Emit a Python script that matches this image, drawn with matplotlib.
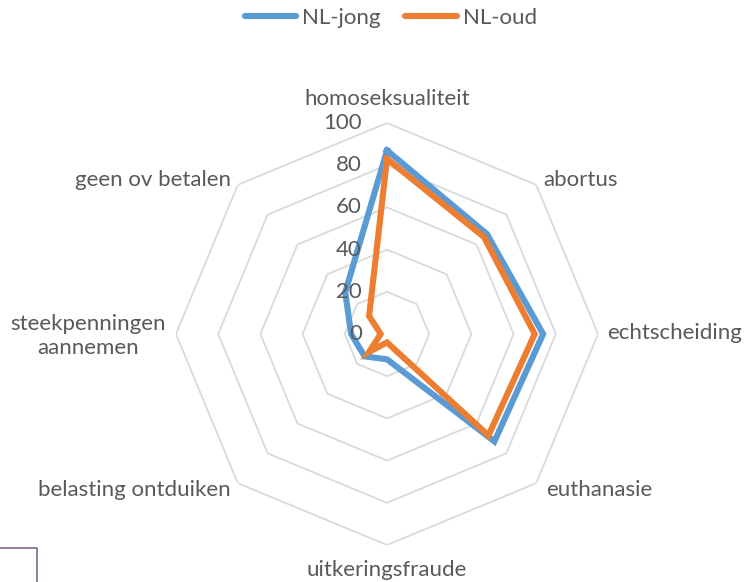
import numpy as np
import matplotlib
matplotlib.use("Agg")
import matplotlib.pyplot as plt
from matplotlib.lines import Line2D

categories = ["homoseksualiteit", "abortus", "echtscheiding", "euthanasie",
              "uitkeringsfraude", "belasting ontduiken", "steekpenningen\naannemen",
              "geen ov betalen"]
nl_jong = [87, 67, 74, 72, 12, 15, 17, 28]
nl_oud = [83, 65, 70, 68, 4, 12, 3, 12]
ticks = [0, 20, 40, 60, 80, 100]
series_names = ["NL-jong", "NL-oud"]

W, H = 746, 582
DPI = 100
plt.rcParams['font.family'] = ['Lato', 'DejaVu Sans']
TXT = '#595959'
GRID = '#D9D9D9'
BLUE = '#5B9BD5'
ORANGE = '#ED7D31'
FS = 16

fig = plt.figure(figsize=(W / DPI, H / DPI), dpi=DPI)
cx, cy, R = 387, 334, 211
ax = fig.add_axes([(cx - R) / W, (H - cy - R) / H, 2 * R / W, 2 * R / H], projection='polar')
ax.set_theta_offset(np.pi / 2)
ax.set_theta_direction(-1)
ax.set_ylim(0, 100)
ax.grid(False)
ax.spines['polar'].set_visible(False)
ax.set_xticks([])
ax.set_yticks([])
ax.patch.set_alpha(0)

n = len(categories)
theta = np.arange(n) * 2 * np.pi / n
theta_c = np.append(theta, theta[0])

# grid rings
for t in ticks[1:]:
    ax.plot(theta_c, [t] * (n + 1), color=GRID, lw=1.3, zorder=1)

# data
for vals, col, name in [(nl_jong, BLUE, series_names[0]), (nl_oud, ORANGE, series_names[1])]:
    v = np.append(vals, vals[0])
    ax.plot(theta_c, v, color=col, lw=4.4, solid_joinstyle='miter', label=name, zorder=3)

# tick labels
for t in ticks:
    ax.annotate(str(t), xy=(0, t), xytext=(-25, 0), textcoords='offset pixels',
                ha='right', va='center', fontsize=FS, color=TXT)

# category labels
offsets = [((0, 24), 'center'), ((7, 5), 'left'), ((9, 1), 'left'), ((10, -7), 'left'),
           ((0, -25), 'center'), ((-7, -7), 'right'), ((-10, -2), 'right'), ((-7, 5), 'right')]
for th, lab, (off, ha) in zip(theta, categories, offsets):
    ax.annotate(lab, xy=(th, 100), xytext=off, textcoords='offset pixels',
                ha=ha, va='center', multialignment='center', fontsize=FS,
                color=TXT, linespacing=1.2, annotation_clip=False)

handles = [Line2D([], [], color=BLUE, lw=4.4, solid_capstyle='round'),
           Line2D([], [], color=ORANGE, lw=4.4, solid_capstyle='round')]
leg = fig.legend(handles, series_names, loc='center', bbox_to_anchor=(391 / W, 1 - 18 / H),
                 ncol=2, frameon=False, fontsize=FS, handlelength=2.3, handletextpad=0.3,
                 columnspacing=1.1, labelcolor=TXT)

# partial frame at bottom-left
fig.add_artist(Line2D([0, 37 / W, 37 / W], [1 - 548 / H, 1 - 548 / H, 0],
                      transform=fig.transFigure, color='#80678A', lw=1.2))

fig.savefig('out.png', dpi=DPI)
